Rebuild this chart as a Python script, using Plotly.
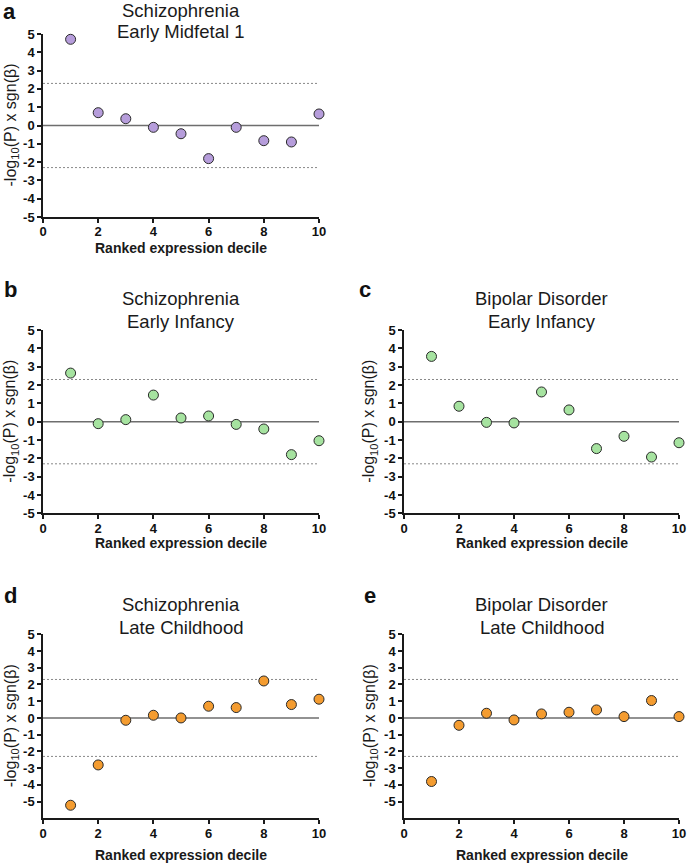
import plotly.graph_objects as go

W, H = 687, 863

DECILES = [1, 2, 3, 4, 5, 6, 7, 8, 9, 10]
SCZ_EARLY_MIDFETAL = [4.71, 0.70, 0.37, -0.10, -0.45, -1.81, -0.10, -0.83, -0.90, 0.63]
SCZ_EARLY_INFANCY = [2.65, -0.11, 0.11, 1.45, 0.20, 0.31, -0.15, -0.40, -1.80, -1.04]
BD_EARLY_INFANCY = [3.56, 0.84, -0.04, -0.07, 1.62, 0.64, -1.47, -0.80, -1.93, -1.15]
SCZ_LATE_CHILDHOOD = [-5.22, -2.81, -0.14, 0.16, 0.00, 0.70, 0.62, 2.21, 0.80, 1.12]
BD_LATE_CHILDHOOD = [-3.80, -0.44, 0.28, -0.12, 0.24, 0.34, 0.48, 0.08, 1.04, 0.08]
THRESHOLD = 2.3
X_TICKS = [0, 2, 4, 6, 8, 10]
X_TICK_LABELS = ["<b>%d</b>" % v for v in X_TICKS]
Y_TICKS = [-5, -4, -3, -2, -1, 0, 1, 2, 3, 4, 5]
Y_TICK_LABELS = ["<b>%d</b>" % v for v in Y_TICKS]

PURPLE = "#B69DDB"
GREEN = "#A6E3A0"
ORANGE = "#F49C30"

FONT = "Liberation Sans, Arial, Helvetica, sans-serif"

panels = [
    dict(letter="a", t1="Schizophrenia", t2="Early Midfetal 1", vals=SCZ_EARLY_MIDFETAL, color=PURPLE,
         xpx=(43, 319), ypx=(34, 217), yr=[-5, 5], lpos=(9, 11), ty=(10, 32), labx=11, xt=248),
    dict(letter="b", t1="Schizophrenia", t2="Early Infancy", vals=SCZ_EARLY_INFANCY, color=GREEN,
         xpx=(43, 319), ypx=(330, 513.3), yr=[-5, 5], lpos=(10, 289), ty=(298, 321.5), labx=11, xt=543),
    dict(letter="c", t1="Bipolar Disorder", t2="Early Infancy", vals=BD_EARLY_INFANCY, color=GREEN,
         xpx=(404, 679), ypx=(330, 513.3), yr=[-5, 5], lpos=(365, 289), ty=(298, 321.5), labx=370, xt=543),
    dict(letter="d", t1="Schizophrenia", t2="Late Childhood", vals=SCZ_LATE_CHILDHOOD, color=ORANGE,
         xpx=(43, 319), ypx=(634.3, 818.3), yr=[-6, 5], lpos=(10, 595), ty=(604.5, 627.5), labx=11, xt=855),
    dict(letter="e", t1="Bipolar Disorder", t2="Late Childhood", vals=BD_LATE_CHILDHOOD, color=ORANGE,
         xpx=(404, 679), ypx=(634.3, 818.3), yr=[-6, 5], lpos=(370, 595), ty=(604.5, 627.5), labx=370, xt=855),
]


def px_x(x):
    return x / W


def px_y(y):
    return 1 - y / H


fig = go.Figure()
annotations = []
shapes = []

for i, p in enumerate(panels):
    n = "" if i == 0 else str(i + 1)
    xa, ya = "x" + n, "y" + n
    fig.add_trace(go.Scatter(
        x=DECILES, y=p["vals"], mode="markers", xaxis=xa, yaxis=ya,
        marker=dict(size=10, color=p["color"], line=dict(width=1, color="#2a2a2a")),
        cliponaxis=False, showlegend=False, hoverinfo="x+y"))

    axis_common = dict(showline=True, linecolor="#1a1a1a", linewidth=1.5, ticks="outside",
                       ticklen=4, tickwidth=1.5, tickcolor="#1a1a1a", showgrid=False, zeroline=False,
                       automargin=False,
                       tickfont=dict(family=FONT, size=13, color="#111"), fixedrange=True)
    fig.update_layout(**{
        "xaxis" + n: dict(domain=[px_x(p["xpx"][0]), px_x(p["xpx"][1])], range=[0, 10],
                          tickvals=X_TICKS, ticktext=X_TICK_LABELS, anchor=ya,
                          ticklabelstandoff=-2, **axis_common),
        "yaxis" + n: dict(domain=[px_y(p["ypx"][1]), px_y(p["ypx"][0])], range=p["yr"],
                          tickvals=Y_TICKS, ticktext=Y_TICK_LABELS, anchor=xa, **axis_common),
    })

    for yv in (THRESHOLD, -THRESHOLD):
        shapes.append(dict(type="line", xref=xa, yref=ya, x0=0, x1=10, y0=yv, y1=yv,
                           line=dict(color="#888888", width=1, dash="2px,2px"), layer="below"))
    shapes.append(dict(type="line", xref=xa, yref=ya, x0=0, x1=10, y0=0, y1=0,
                       line=dict(color="#6e6e6e", width=1.5), layer="below"))

    cx = (p["xpx"][0] + p["xpx"][1]) / 2
    cy = (p["ypx"][0] + p["ypx"][1]) / 2
    for txt, ty in ((p["t1"], p["ty"][0]), (p["t2"], p["ty"][1])):
        annotations.append(dict(text=txt, xref="paper", yref="paper", x=px_x(cx), y=px_y(ty),
                                xanchor="center", yanchor="middle", showarrow=False,
                                font=dict(family=FONT, size=18.5, color="#1a1a1a")))
    annotations.append(dict(text="<b>%s</b>" % p["letter"], xref="paper", yref="paper",
                            x=px_x(p["lpos"][0]), y=px_y(p["lpos"][1]), xanchor="center",
                            yanchor="middle", showarrow=False,
                            font=dict(family=FONT, size=22, color="#111")))
    annotations.append(dict(text="-log<sub>10</sub>(P) x sgn(β)", xref="paper", yref="paper",
                            x=px_x(p["labx"]), y=px_y(cy), xanchor="center", yanchor="middle",
                            textangle=-90, showarrow=False,
                            font=dict(family=FONT, size=16, color="#1a1a1a")))
    annotations.append(dict(text="<b>Ranked expression decile</b>", xref="paper", yref="paper",
                            x=px_x(cx), y=px_y(p["xt"]), xanchor="center", yanchor="middle",
                            showarrow=False, font=dict(family=FONT, size=14, color="#1a1a1a")))

fig.update_layout(width=W, height=H, margin=dict(l=0, r=0, t=0, b=0, pad=0, autoexpand=False),
                  paper_bgcolor="white", plot_bgcolor="white",
                  annotations=annotations, shapes=shapes, showlegend=False)

fig.write_html("out.html", config={"displayModeBar": False},
               post_script="document.body.style.margin='0';document.body.style.overflow='hidden';")
